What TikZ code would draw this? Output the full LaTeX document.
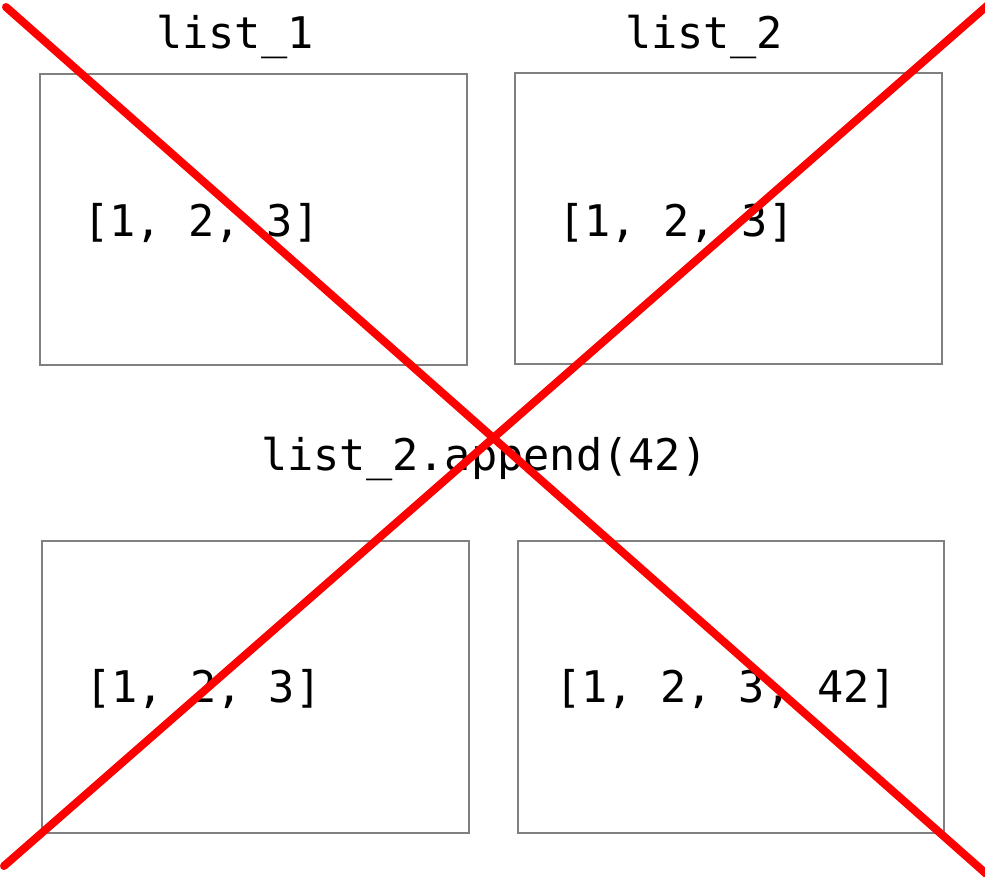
\documentclass[tikz,border=0pt]{standalone}
\usepackage{fontspec}
\setmonofont{DejaVu Sans Mono}
\tikzset{
  listbox/.style={draw=gray, line width=1.3pt},
  code/.style={font=\ttfamily\fontsize{43.6}{52}\selectfont, inner sep=0pt, anchor=base west},
  cross/.style={red, line width=8pt, line cap=round}
}
\begin{document}
\begin{tikzpicture}[x=1pt,y=-1pt]
    \useasboundingbox (0,0) rectangle (985,876);
    % the four boxes
    \draw[listbox] (40,74) rectangle (467,365);
    \draw[listbox] (515,73) rectangle (942,364);
    \draw[listbox] (42,541) rectangle (469,833);
    \draw[listbox] (518,541) rectangle (944,833);
    \node[code] (name1) at (156,48) {list\_1};
    \node[code] (name2) at (625,48) {list\_2};
    \node[code] (val1) at (83,236) {[1, 2, 3]};
    \node[code] (val2) at (558,236) {[1, 2, 3]};
    \node[code] (step) at (261,470) {list\_2.append(42)};
    \node[code] (val3) at (85,702) {[1, 2, 3]};
    \node[code] (val4) at (555,702) {[1, 2, 3, 42]};
    % crossed out
    \draw[cross] (6,7) -- (1000,886);
    \draw[cross] (4,866) -- (1000,-5.5);
\end{tikzpicture}
\end{document}
